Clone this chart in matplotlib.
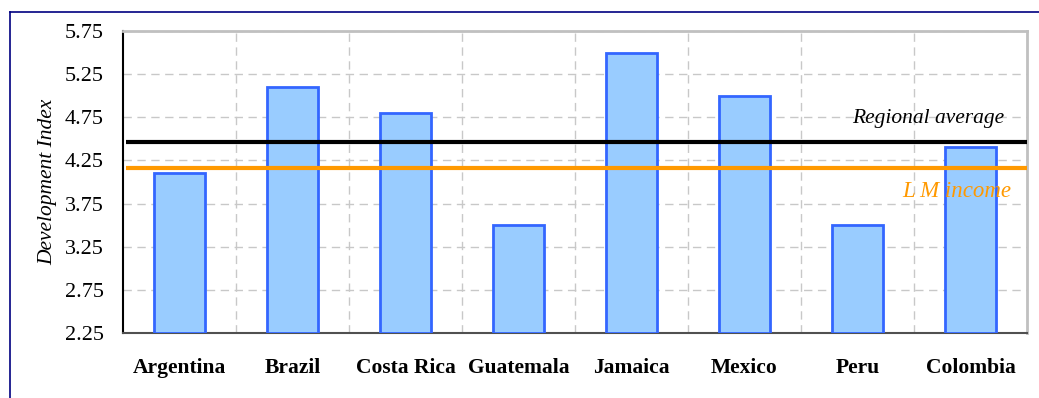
import matplotlib
matplotlib.use("Agg")
import matplotlib.pyplot as plt
from matplotlib.lines import Line2D
import numpy as np

countries = ["Argentina", "Brazil", "Costa Rica", "Guatemala", "Jamaica", "Mexico", "Peru", "Colombia"]
dev_index = [4.10, 5.10, 4.80, 3.50, 5.50, 5.00, 3.50, 4.40]
regional_average = 4.46
lm_income = 4.16
yticks = [2.25, 2.75, 3.25, 3.75, 4.25, 4.75, 5.25, 5.75]

plt.rcParams['font.family'] = ['Liberation Serif', 'DejaVu Serif']

W, H = 1039, 398
fig = plt.figure(figsize=(W / 100, H / 100), dpi=100)
ax = fig.add_axes([123 / W, 1 - 333 / H, (1027 - 123) / W, (333 - 31) / H])

x = np.arange(len(countries))
ax.bar(x, [v - 2.25 for v in dev_index], bottom=2.25, width=0.46,
       color="#99CCFF", edgecolor="#3366FF", linewidth=2, zorder=3)

ax.set_xlim(-0.5, len(countries) - 0.5)
ax.set_ylim(2.25, 5.75)
ax.set_yticks(yticks)
ax.set_yticklabels([f"{t:.2f}" for t in yticks], fontsize=16)
ax.set_xticks(x)
ax.set_xticklabels(countries, fontsize=15.5, fontweight="bold")
ax.tick_params(axis="both", length=0)
ax.tick_params(axis="x", pad=18)
ax.tick_params(axis="y", pad=14)

# grid
ax.set_xticks(np.arange(0.5, len(countries) - 0.5, 1), minor=True)
ax.grid(which="minor", axis="x", color="#C8C8C8", linestyle=(0, (6, 4)), linewidth=1, zorder=0)
ax.grid(which="major", axis="y", color="#C8C8C8", linestyle=(0, (6, 4)), linewidth=1, zorder=0)
ax.tick_params(which="minor", length=0)

# reference lines
x0 = -0.5 + 3 / 113
ax.plot([x0, len(countries) - 0.5], [regional_average] * 2, color="black", linewidth=3, zorder=4,
        solid_capstyle="butt")
ax.plot([x0, len(countries) - 0.5], [lm_income] * 2, color="#FF9900", linewidth=3, zorder=4,
        solid_capstyle="butt")
ax.text(7.30, 4.74, "Regional average", style="italic", fontsize=15.5, color="black",
        ha="right", va="center", zorder=5)
ax.text(7.36, 3.89, "L M income", style="italic", fontsize=16.5, color="#FF9900",
        ha="right", va="center", zorder=5)

ax.set_ylabel("Development Index", style="italic", fontsize=15.5, labelpad=5)

for s in ["top", "right"]:
    ax.spines[s].set_color("#C0C0C0")
    ax.spines[s].set_linewidth(2)
ax.spines["left"].set_color("black")
ax.spines["left"].set_linewidth(1.5)
ax.spines["bottom"].set_color("#505050")
ax.spines["bottom"].set_linewidth(1.5)

# outer frame lines
fig.add_artist(Line2D([9.5 / W, 9.5 / W], [0, 1 - 12 / H], transform=fig.transFigure,
                      color="#000080", linewidth=1.2))
fig.add_artist(Line2D([9.5 / W, 1], [1 - 12 / H, 1 - 12 / H], transform=fig.transFigure,
                      color="#000080", linewidth=1.2))

fig.savefig("out.png", dpi=100)
